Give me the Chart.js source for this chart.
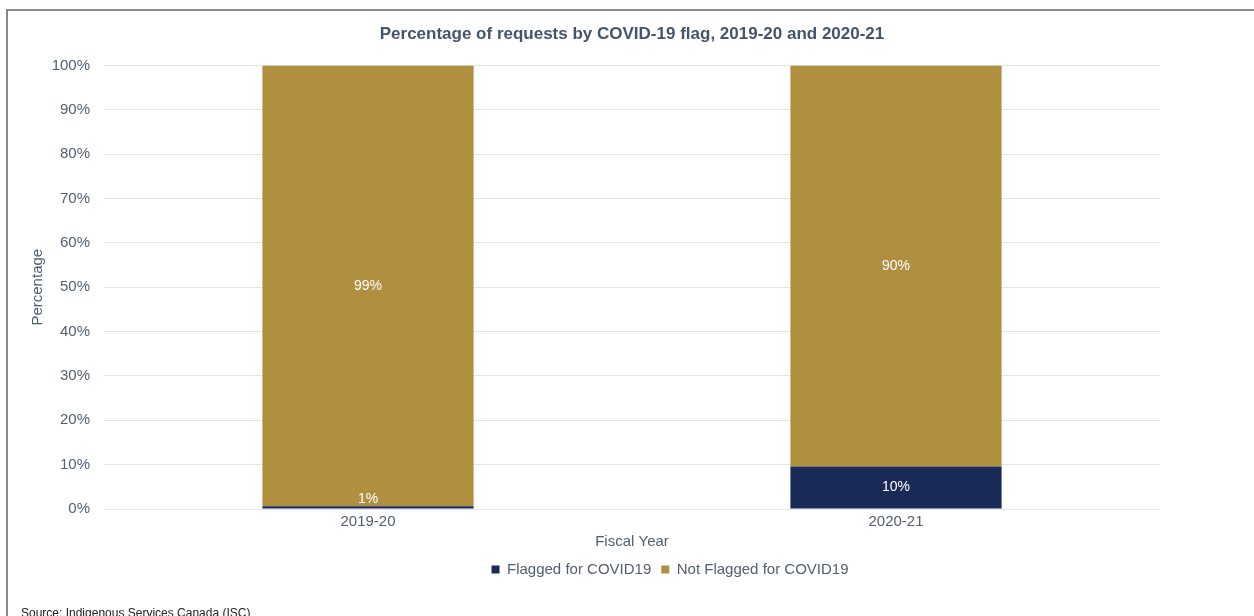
<!DOCTYPE html>
<html>
<head>
<meta charset="utf-8">
<script src="https://cdn.jsdelivr.net/npm/chart.js@4"></script>
<style>
  html, body { margin: 0; padding: 0; background: #fff; }
  #wrap { position: relative; width: 1254px; height: 616px; overflow: hidden; }
  #frame { position: absolute; left: 6px; top: 9px; width: 1300px; height: 700px;
    border-top: 2px solid #8a8a8a; border-left: 2px solid #8a8a8a; }
  #c { position: absolute; left: 0; top: 0; }
  #src { position: absolute; left: 21px; top: 606px; font: 12px "Liberation Sans", Arial, sans-serif; color: #222; }
</style>
</head>
<body>
<div id="wrap">
  <div id="frame"></div>
  <canvas id="c" width="1254" height="616"></canvas>
  <div id="src">Source: Indigenous Services Canada (ISC)</div>
</div>
<script>
const years = ["2019-20", "2020-21"];
const flagged = [0.6, 9.6];
const notFlagged = [99.4, 90.4];
const yTicks = [0, 10, 20, 30, 40, 50, 60, 70, 80, 90, 100];

const FONT = '"Liberation Sans", Arial, sans-serif';
const TXT = "#525e70";

// dibuja las etiquetas de porcentaje dentro de cada segmento
const segLabels = {
  id: "segLabels",
  afterDatasetsDraw(chart) {
    const ctx = chart.ctx;
    ctx.save();
    ctx.fillStyle = "#ffffff";
    ctx.font = "14px " + FONT;
    ctx.textAlign = "center";
    ctx.textBaseline = "middle";
    chart.data.datasets.forEach((ds, i) => {
      chart.getDatasetMeta(i).data.forEach((bar, j) => {
        const props = bar.getProps(["x", "y", "base"], true);
        let y = (props.y + props.base) / 2;
        if (props.base - y < 9) y = props.base - 9;
        ctx.fillText(Math.round(ds.data[j]) + "%", props.x, y);
      });
    });
    ctx.restore();
  },
};

// mueve la leyenda un poco a la derecha, como en el original
const shiftLegend = {
  id: "shiftLegend",
  afterLayout(chart) {
    const lg = chart.legend;
    lg.left += 38;
    lg.right += 38;
    lg.legendHitBoxes.forEach((h) => (h.left += 38));
  },
};

new Chart(document.getElementById("c"), {
  type: "bar",
  data: {
    labels: years,
    datasets: [
      { label: "Flagged for COVID19", data: flagged, backgroundColor: "#182a55" },
      { label: "Not Flagged for COVID19", data: notFlagged, backgroundColor: "#b08f41" },
    ],
  },
  plugins: [segLabels, shiftLegend],
  options: {
    responsive: false,
    animation: false,
    layout: { padding: { top: 14, left: 25, right: 94, bottom: 29 } },
    barPercentage: 0.4,
    categoryPercentage: 1,
    plugins: {
      title: {
        display: true,
        fullSize: false,
        text: "Percentage of requests by COVID-19 flag, 2019-20 and 2020-21",
        color: "#44546a",
        font: { family: FONT, size: 17, weight: "bold" },
        padding: { top: 10, bottom: 21 },
      },
      legend: {
        position: "bottom",
        fullSize: false,
        labels: {
          color: TXT,
          font: { family: FONT, size: 15 },
          boxWidth: 8,
          boxHeight: 8,
          padding: 10,
        },
      },
      tooltip: { enabled: false },
    },
    scales: {
      x: {
        stacked: true,
        grid: { display: false, drawTicks: false },
        border: { display: false },
        ticks: { color: TXT, font: { family: FONT, size: 15 }, padding: 4 },
        title: { display: true, text: "Fiscal Year", color: TXT, font: { family: FONT, size: 15 }, padding: { top: -2, bottom: 1 } },
      },
      y: {
        stacked: true,
        min: 0,
        max: 100,
        afterBuildTicks: (axis) => { axis.ticks = yTicks.map((v) => ({ value: v })); },
        afterFit: (axis) => { axis.width = 79; },
        grid: { color: "#e3e5e8", drawTicks: false },
        border: { display: false },
        ticks: { color: TXT, font: { family: FONT, size: 15 }, padding: 14, callback: (v) => v + "%" },
        title: { display: true, text: "Percentage", color: TXT, font: { family: FONT, size: 15 }, padding: 4 },
      },
    },
  },
});
</script>
</body>
</html>
